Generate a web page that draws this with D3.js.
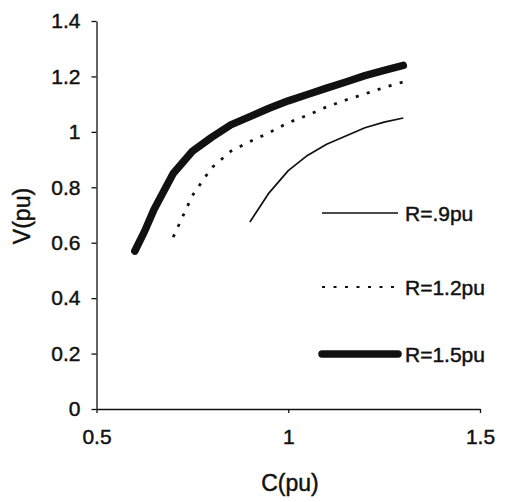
<!DOCTYPE html>
<html>
<head>
<meta charset="utf-8">
<script src="https://cdn.jsdelivr.net/npm/d3@7"></script>
<style>
  body { margin: 0; background: #fff; }
  svg { font-family: "Liberation Sans", Arial, sans-serif; }
  svg text { stroke: #111; stroke-width: 0.45px; }
</style>
</head>
<body>
<svg id="chart" width="505" height="502"></svg>
<script>
// C (pu) values sampled along each curve
const cR09 = [0.9, 0.95, 1.0, 1.05, 1.1, 1.15, 1.2, 1.25, 1.3];
const vR09 = [0.675, 0.78, 0.86, 0.915, 0.955, 0.985, 1.015, 1.035, 1.05];

const cR12 = [0.7, 0.75, 0.8, 0.85, 0.9, 0.95, 1.0, 1.05, 1.1, 1.15, 1.2, 1.25, 1.3];
const vR12 = [0.62, 0.77, 0.87, 0.93, 0.965, 0.997, 1.033, 1.06, 1.09, 1.115, 1.137, 1.16, 1.18];

const cR15 = [0.6, 0.625, 0.65, 0.7, 0.75, 0.8, 0.85, 0.9, 0.95, 1.0, 1.05, 1.1, 1.15, 1.2, 1.25, 1.3];
const vR15 = [0.57, 0.64, 0.72, 0.85, 0.93, 0.98, 1.025, 1.055, 1.085, 1.112, 1.135, 1.158, 1.18, 1.203, 1.222, 1.24];

const seriesNames = ["R=.9pu", "R=1.2pu", "R=1.5pu"];
const xTicks = [0.5, 1, 1.5];
const yTicks = [0, 0.2, 0.4, 0.6, 0.8, 1, 1.2, 1.4];

const svg = d3.select("#chart");
const ink = "#111";

const x = d3.scaleLinear().domain([0.5, 1.5]).range([96.5, 480]);
const y = d3.scaleLinear().domain([0, 1.4]).range([409, 21]);

// axes
const xAxis = d3.axisBottom(x).tickValues(xTicks).tickFormat(d3.format("~g"))
    .tickSizeInner(4).tickSizeOuter(0).tickPadding(16);
const yAxis = d3.axisLeft(y).tickValues(yTicks).tickFormat(d3.format("~g"))
    .tickSizeInner(5).tickSizeOuter(0).tickPadding(11);

const gx = svg.append("g").attr("transform", "translate(0,409)").call(xAxis);
const gy = svg.append("g").attr("transform", "translate(96.5,0)").call(yAxis);

[gx, gy].forEach(g => {
    g.select(".domain").attr("stroke", ink).attr("stroke-width", 1.3);
    g.selectAll(".tick line").attr("stroke", ink).attr("stroke-width", 1.3);
    g.selectAll(".tick text").attr("fill", ink).style("font-size", "21px");
});

// axis titles
svg.append("text")
    .attr("x", 290).attr("y", 491)
    .attr("text-anchor", "middle")
    .attr("fill", ink)
    .style("font-size", "23px")
    .text("C(pu)");

svg.append("text")
    .attr("transform", "translate(30,216) rotate(-90)")
    .attr("text-anchor", "middle")
    .attr("fill", ink)
    .style("font-size", "23px")
    .text("V(pu)");

// curves
const styles = [
    { width: 1.7, dash: null, cap: "butt" },
    { width: 2.8, dash: "3 8.5", cap: "butt" },
    { width: 7.5, dash: null, cap: "round" }
];
const series = [
    d3.zip(cR09, vR09),
    d3.zip(cR12, vR12),
    d3.zip(cR15, vR15)
];

const line = d3.line().x(d => x(d[0])).y(d => y(d[1]));

series.forEach((s, i) => {
    svg.append("path")
        .datum(s)
        .attr("d", line)
        .attr("fill", "none")
        .attr("stroke", ink)
        .attr("stroke-width", styles[i].width)
        .attr("stroke-dasharray", styles[i].dash)
        .attr("stroke-linecap", styles[i].cap)
        .attr("stroke-linejoin", "round");
});

// legend
const legendY = [213, 287, 354];
const legend = svg.append("g");
seriesNames.forEach((name, i) => {
    legend.append("line")
        .attr("x1", 322).attr("x2", 398)
        .attr("y1", legendY[i]).attr("y2", legendY[i])
        .attr("stroke", ink)
        .attr("stroke-width", i === 1 ? 2.2 : styles[i].width)
        .attr("stroke-dasharray", styles[i].dash)
        .attr("stroke-linecap", styles[i].cap);
    legend.append("text")
        .attr("x", 405).attr("y", legendY[i] + 7.5)
        .attr("fill", ink)
        .style("font-size", "21px")
        .text(name);
});
</script>
</body>
</html>
